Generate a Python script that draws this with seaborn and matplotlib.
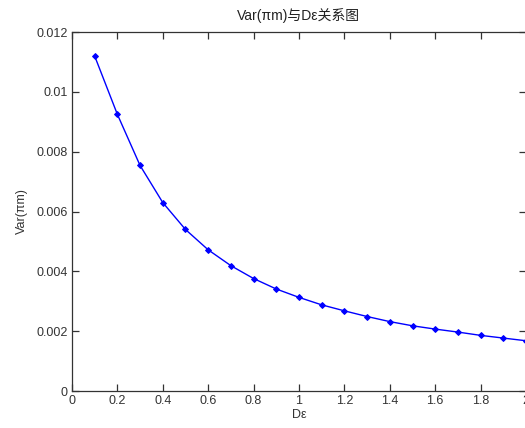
import numpy as np
import pandas as pd
import matplotlib
matplotlib.use("Agg")
import matplotlib.pyplot as plt
import seaborn as sns

# values
d_eps = [0.1, 0.2, 0.3, 0.4, 0.5, 0.6, 0.7, 0.8, 0.9, 1.0,
         1.1, 1.2, 1.3, 1.4, 1.5, 1.6, 1.7, 1.8, 1.9, 2.0]
var_pm = [0.01120, 0.00925, 0.00754, 0.00630, 0.00540, 0.00472, 0.00419,
          0.00376, 0.00341, 0.00313, 0.00288, 0.00268, 0.00249, 0.00232,
          0.00218, 0.00207, 0.00197, 0.00186, 0.00177, 0.00168]

x_ticks = [0, 0.2, 0.4, 0.6, 0.8, 1, 1.2, 1.4, 1.6, 1.8, 2]
x_tick_labels = ["0", "0.2", "0.4", "0.6", "0.8", "1", "1.2", "1.4", "1.6", "1.8", "2"]
y_ticks = [0, 0.002, 0.004, 0.006, 0.008, 0.01, 0.012]
y_tick_labels = ["0", "0.002", "0.004", "0.006", "0.008", "0.01", "0.012"]

df = pd.DataFrame({"De": d_eps, "Var": var_pm})

sns.set_style("white")
plt.rcParams['font.family'] = ['Liberation Sans', 'Noto Sans CJK SC', 'DejaVu Sans']
plt.rcParams['font.size'] = 9

fig = plt.figure(figsize=(5.25, 4.28), dpi=100)
ax = fig.add_axes([0.137, 0.0864, 0.865, 0.8388])

sns.lineplot(data=df, x="De", y="Var", ax=ax, color="#0000ff", linewidth=1.0,
             marker="D", markersize=3.0, markeredgecolor="#0000ff")

ax.set_xlim(0, 2)
ax.set_ylim(0, 0.012)
ax.set_xticks(x_ticks)
ax.set_xticklabels(x_tick_labels)
ax.set_yticks(y_ticks)
ax.set_yticklabels(y_tick_labels)

for s in ax.spines.values():
    s.set_color("#333333")
    s.set_linewidth(0.9)
ax.tick_params(direction="in", length=5, width=0.9, color="#333333",
               top=True, right=True, bottom=True, left=True,
               labelsize=9, labelcolor="#333333", pad=3)

ax.set_title("Var(πm)与Dε关系图", fontsize=10, color="#222222", pad=9)
ax.set_xlabel("Dε", fontsize=9, color="#333333", labelpad=1)
ax.set_ylabel("Var(πm)", fontsize=9, color="#333333", labelpad=6)

fig.savefig("out.png", dpi=100)
